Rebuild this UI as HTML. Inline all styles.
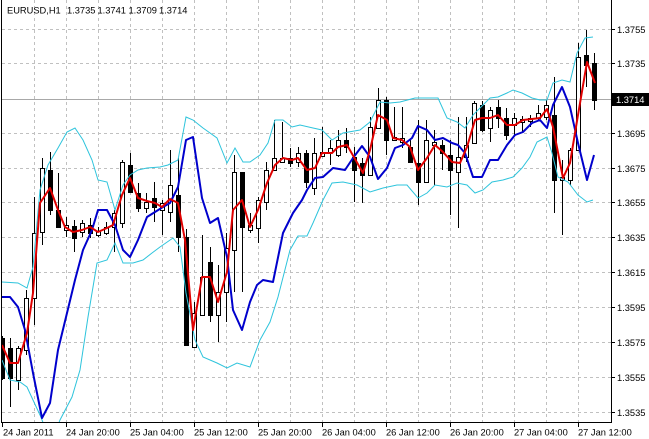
<!DOCTYPE html>
<html><head><meta charset="utf-8"><style>
html,body{margin:0;padding:0;background:#fff;width:649px;height:439px;overflow:hidden}
svg{display:block}
text{font-family:"Liberation Sans",sans-serif;font-size:9.3px;fill:#000}
</style></head><body>
<svg width="649" height="439" viewBox="0 0 649 439" xmlns="http://www.w3.org/2000/svg">
<defs><clipPath id="c"><rect x="2" y="0" width="609" height="422"/></clipPath></defs>
<rect width="649" height="439" fill="#fff"/>
<g stroke="#c0c0c0" stroke-width="1" stroke-dasharray="3,3" fill="none">
<path d="M2 29.5H611M2 63.5H611M2 133.5H611M2 168.5H611M2 202.5H611M2 237.5H611M2 272.5H611M2 307.5H611M2 342.5H611M2 377.5H611M2 412.5H611"/>
<path d="M34.5 0V422M66.5 0V422M98.5 0V422M130.5 0V422M162.5 0V422M194.5 0V422M226.5 0V422M258.5 0V422M290.5 0V422M322.5 0V422M354.5 0V422M386.5 0V422M418.5 0V422M450.5 0V422M482.5 0V422M514.5 0V422M546.5 0V422M578.5 0V422"/>
</g>
<path d="M2 99.5H611" stroke="#a8a8a8" stroke-width="1"/>
<g clip-path="url(#c)">
<path stroke="#000" stroke-width="1" fill="none" d="M2.5 336V380M10.5 338V407M18.5 346V390M26.5 290V355M34.5 197V325M42.5 158V245M50.5 152V215M58.5 173V228M66.5 217V237M74.5 220V252M82.5 220V237M90.5 218V238M98.5 227V237M106.5 222V235M114.5 210V252M122.5 160V228M130.5 153V193M138.5 183V212M146.5 193V213M154.5 182V222M162.5 200V235M170.5 150V222M178.5 158V252M186.5 229V345M194.5 302V347M202.5 235V315M210.5 247V322M218.5 265V342M226.5 233V322M234.5 155V292M242.5 172V292M250.5 213V233M258.5 197V243M266.5 162V210M274.5 120V170M282.5 122V163M290.5 148V167M298.5 147V167M306.5 150V188M314.5 138V195M322.5 127V157M330.5 140V165M338.5 130V157M346.5 128V153M354.5 147V202M362.5 158V203M370.5 117V175M378.5 88V128M386.5 97V155M394.5 107V141M402.5 107V148M410.5 140V162M418.5 120V205M426.5 120V183M434.5 130V185M442.5 140V170M450.5 140V215M458.5 117V228M466.5 117V162M474.5 101V143M482.5 101V132M490.5 107V142M498.5 100V128M506.5 108V140M514.5 113V135M522.5 116V133M530.5 115V127M538.5 105V120M546.5 100V120M554.5 77V213M562.5 160V235M570.5 148V185M578.5 43V150M586.5 30V87M594.5 53V110"/>
<g stroke="#000" stroke-width="1" fill="#000">
<rect x="0.5" y="338.5" width="4" height="40"/>
<rect x="8.5" y="348.5" width="4" height="30"/>
<rect x="48.5" y="170.5" width="4" height="40"/>
<rect x="56.5" y="210.5" width="4" height="17"/>
<rect x="72.5" y="226.5" width="4" height="12"/>
<rect x="88.5" y="225.5" width="4" height="8"/>
<rect x="128.5" y="165.5" width="4" height="27"/>
<rect x="136.5" y="193.5" width="4" height="15"/>
<rect x="152.5" y="198.5" width="4" height="9"/>
<rect x="176.5" y="195.5" width="4" height="42"/>
<rect x="184.5" y="237.5" width="4" height="108"/>
<rect x="208.5" y="262.5" width="4" height="53"/>
<rect x="240.5" y="172.5" width="4" height="55"/>
<rect x="288.5" y="158.5" width="4" height="5"/>
<rect x="304.5" y="153.5" width="4" height="29"/>
<rect x="344.5" y="140.5" width="4" height="7"/>
<rect x="352.5" y="157.5" width="4" height="13"/>
<rect x="360.5" y="163.5" width="4" height="12"/>
<rect x="384.5" y="100.5" width="4" height="40"/>
<rect x="408.5" y="147.5" width="4" height="15"/>
<rect x="416.5" y="163.5" width="4" height="19"/>
<rect x="440.5" y="145.5" width="4" height="8"/>
<rect x="448.5" y="155.5" width="4" height="15"/>
<rect x="480.5" y="105.5" width="4" height="25"/>
<rect x="496.5" y="107.5" width="4" height="11"/>
<rect x="504.5" y="118.5" width="4" height="17"/>
<rect x="552.5" y="115.5" width="4" height="65"/>
<rect x="584.5" y="55.5" width="4" height="10"/>
<rect x="592.5" y="63.5" width="4" height="37"/>
</g>
<g stroke="#000" stroke-width="1" fill="#fff">
<rect x="16.5" y="348.5" width="4" height="32"/>
<rect x="24.5" y="298.5" width="4" height="52"/>
<rect x="32.5" y="233.5" width="4" height="65"/>
<rect x="40.5" y="168.5" width="4" height="64"/>
<rect x="64.5" y="225.5" width="4" height="5"/>
<rect x="80.5" y="223.5" width="4" height="9"/>
<rect x="96.5" y="231.5" width="4" height="4"/>
<rect x="104.5" y="227.5" width="4" height="6"/>
<rect x="112.5" y="213.5" width="4" height="14"/>
<rect x="120.5" y="162.5" width="4" height="61"/>
<rect x="144.5" y="202.5" width="4" height="6"/>
<rect x="160.5" y="203.5" width="4" height="7"/>
<rect x="168.5" y="185.5" width="4" height="27"/>
<rect x="192.5" y="313.5" width="4" height="34"/>
<rect x="200.5" y="277.5" width="4" height="38"/>
<rect x="216.5" y="292.5" width="4" height="23"/>
<rect x="224.5" y="248.5" width="4" height="44"/>
<rect x="232.5" y="172.5" width="4" height="78"/>
<rect x="248.5" y="225.5" width="4" height="5"/>
<rect x="256.5" y="200.5" width="4" height="28"/>
<rect x="264.5" y="170.5" width="4" height="32"/>
<rect x="272.5" y="158.5" width="4" height="12"/>
<rect x="280.5" y="158.5" width="4" height="4"/>
<rect x="296.5" y="153.5" width="4" height="9"/>
<rect x="312.5" y="153.5" width="4" height="35"/>
<rect x="320.5" y="152.5" width="4" height="4"/>
<rect x="328.5" y="148.5" width="4" height="4"/>
<rect x="336.5" y="140.5" width="4" height="15"/>
<rect x="368.5" y="127.5" width="4" height="48"/>
<rect x="376.5" y="100.5" width="4" height="28"/>
<rect x="392.5" y="137.5" width="4" height="3"/>
<rect x="400.5" y="138.5" width="4" height="4"/>
<rect x="424.5" y="140.5" width="4" height="42"/>
<rect x="432.5" y="142.5" width="4" height="3"/>
<rect x="456.5" y="157.5" width="4" height="15"/>
<rect x="464.5" y="145.5" width="4" height="12"/>
<rect x="472.5" y="103.5" width="4" height="40"/>
<rect x="488.5" y="110.5" width="4" height="18"/>
<rect x="512.5" y="118.5" width="4" height="7"/>
<rect x="520.5" y="119.5" width="4" height="3"/>
<rect x="528.5" y="118.5" width="4" height="3"/>
<rect x="536.5" y="113.5" width="4" height="5"/>
<rect x="544.5" y="105.5" width="4" height="12"/>
<rect x="560.5" y="177.5" width="4" height="3"/>
<rect x="568.5" y="150.5" width="4" height="30"/>
<rect x="576.5" y="57.5" width="4" height="93"/>
</g>
<g fill="none" stroke="#2ec4dc" stroke-width="1">
<polyline points="2,282 18,283 27,288 33,267 40,190 48,165 58,148 67,132 75,128 83,140 92,160 98,180 107,182 115,210 123,185 130,175 138,170 147,168 160,167 168,165 178,160 186,117 193,120 203,128 217,138 227,163 235,148 243,162 250,162 260,155 268,143 275,120 283,120 292,127 300,125 313,128 322,130 332,140 343,133 360,130 370,122 380,102 390,103 400,102 415,98 428,98 438,98 447,118 457,122 465,128 473,115 483,105 490,98 498,97 507,93 513,90 522,93 532,98 540,100 547,100 553,83 562,80 570,82 577,53 585,38 593,37"/>
<polyline points="2,360 10,380 20,382 27,387 33,400 40,415 46,430 56,430 60,420 72,397 80,370 88,317 97,263 107,260 115,243 123,263 133,263 143,260 152,253 160,247 173,238 180,247 186,293 195,340 203,357 217,363 227,368 237,363 250,367 260,340 270,322 278,297 290,250 298,236 307,236 313,223 323,200 332,183 343,182 357,185 370,192 383,188 397,185 407,185 418,198 427,193 435,185 447,187 457,183 467,185 475,193 483,190 492,182 503,180 513,177 522,168 530,157 537,142 547,137 552,153 558,177 568,182 578,195 587,202 593,200"/>
</g>
<polyline fill="none" stroke="#0000cc" stroke-width="2" stroke-linejoin="round" points="2,297 10,297 18,307 25,330 33,373 42,418 50,403 58,350 67,313 75,280 83,250 92,230 98,210 107,210 115,225 123,250 130,257 138,240 147,217 155,212 163,207 170,203 178,187 186,140 193,137 202,198 210,223 218,218 227,257 233,310 242,330 250,302 257,285 263,280 273,282 283,233 293,213 302,200 307,190 315,178 323,177 333,168 345,170 353,158 362,146 370,157 378,179 387,168 395,148 403,145 412,138 418,126 427,130 435,140 443,138 452,143 458,145 465,153 473,177 482,177 490,160 498,160 507,145 515,135 523,132 532,123 540,120 547,128 553,105 562,87 570,107 578,143 587,180 594,155"/>
<polyline fill="none" stroke="#e00000" stroke-width="2" stroke-linejoin="round" points="2,345 10,363 18,363 27,333 33,293 40,203 50,188 58,210 65,227 73,232 82,230 90,227 98,232 107,228 113,225 122,195 130,178 138,198 147,201 155,203 162,207 170,199 178,203 185,240 193,330 202,277 210,277 218,302 227,272 233,210 242,200 250,227 258,210 267,183 275,165 283,158 292,160 298,158 307,170 315,168 322,153 332,153 338,147 347,145 355,159 363,173 370,150 378,115 387,120 393,138 402,140 410,147 418,170 427,158 435,145 443,152 452,162 460,163 467,147 475,120 482,118 490,118 498,115 507,125 515,125 523,120 532,119 540,118 547,109 553,127 563,178 570,163 578,115 587,62 595,83"/>
</g>
<g stroke="#000" stroke-width="1" fill="none">
<path d="M1.5 0V423M611.5 0V423M1 422.5H612"/>
<path d="M611 29.5H615M611 63.5H615M611 133.5H615M611 168.5H615M611 202.5H615M611 237.5H615M611 272.5H615M611 307.5H615M611 342.5H615M611 377.5H615M611 412.5H615"/>
<path d="M2.5 423V427M66.5 423V427M130.5 423V427M194.5 423V427M258.5 423V427M322.5 423V427M386.5 423V427M450.5 423V427M514.5 423V427M578.5 423V427"/>
</g>
<text x="7" y="13.5">EURUSD,H1</text>
<text x="67" y="13.5">1.3735</text>
<text x="97.5" y="13.5">1.3741</text>
<text x="128.5" y="13.5">1.3709</text>
<text x="159" y="13.5">1.3714</text>
<text x="617" y="32.8">1.3755</text>
<text x="617" y="66.8">1.3735</text>
<text x="617" y="136.8">1.3695</text>
<text x="617" y="171.8">1.3675</text>
<text x="617" y="205.8">1.3655</text>
<text x="617" y="240.8">1.3635</text>
<text x="617" y="275.8">1.3615</text>
<text x="617" y="310.8">1.3595</text>
<text x="617" y="345.8">1.3575</text>
<text x="617" y="380.8">1.3555</text>
<text x="617" y="415.8">1.3535</text>
<rect x="612" y="93" width="37" height="13" fill="#000"/>
<text x="616" y="103" style="fill:#fff">1.3714</text>
<text x="3" y="435.5">24 Jan 2011</text>
<text x="66" y="435.5">24 Jan 20:00</text>
<text x="130" y="435.5">25 Jan 04:00</text>
<text x="194" y="435.5">25 Jan 12:00</text>
<text x="258" y="435.5">25 Jan 20:00</text>
<text x="322" y="435.5">26 Jan 04:00</text>
<text x="386" y="435.5">26 Jan 12:00</text>
<text x="450" y="435.5">26 Jan 20:00</text>
<text x="514" y="435.5">27 Jan 04:00</text>
<text x="578" y="435.5">27 Jan 12:00</text>
</svg>
</body></html>
